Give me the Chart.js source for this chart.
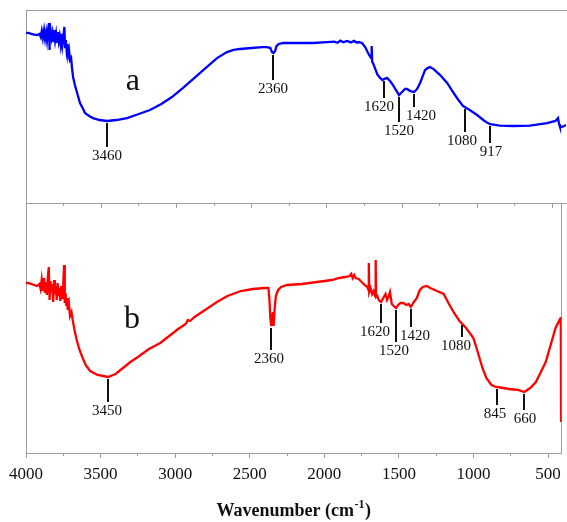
<!DOCTYPE html>
<html><head><meta charset="utf-8">
<script src="https://cdn.jsdelivr.net/npm/chart.js@4"></script>
<style>
html,body{margin:0;padding:0;background:#fff;}
#wrap{position:relative;width:567px;height:522px;overflow:hidden;background:#fff;}
canvas{position:absolute;left:0;top:0;}
</style></head><body>
<div id="wrap"><canvas id="ca" width="567" height="522"></canvas><canvas id="cb" width="567" height="522"></canvas></div>
<script>
// ---------- data ----------
const wavenumberA = [
 4000,3985,3965,3945,3925,3910,3902,3895,3888,3880,
 3873,3866,3860,3853,3847,3844,3842,3836,3830,3824,
 3818,3812,3806,3800,3794,3788,3782,3776,3770,3764,
 3758,3752,3745,3740,3735,3730,3725,3720,3714,3707,
 3700,3694,3687,3675,3660,3641,3620,3608,3580,3555,
 3510,3461,3400,3328,3250,3176,3100,3030,2956,2880,
 2797,2730,2664,2620,2577,2500,2430,2398,2375,2365,
 2355,2344,2335,2320,2291,2200,2092,2000,1950,1930,
 1910,1890,1866,1840,1820,1800,1790,1766,1745,1726,
 1710,1705,1702,1698,1693,1680,1665,1646,1630,1620,
 1600,1580,1560,1540,1520,1500,1480,1467,1445,1420,
 1400,1380,1360,1347,1330,1314,1290,1247,1200,1161,
 1130,1094,1050,1001,960,930,914,850,762,650,
 536,480,463,456,450,436,410];
const transmittanceA = [
 88.1,88.1,87.6,87.3,87.0,87.6,86.0,89.1,85.5,89.6,
 85.0,88.6,84.4,90.1,93.2,79.3,83.9,89.1,85.5,88.1,
 83.4,89.6,84.4,87.6,82.9,88.6,83.9,86.5,82.4,87.6,
 81.8,85.5,91.2,80.8,84.4,79.3,82.4,76.7,79.3,74.1,
 75.1,69.9,65.3,61.1,57.0,51.8,48.7,46.6,45.1,44.0,
 43.0,42.5,43.0,44.0,46.1,48.2,51.3,54.9,59.6,64.8,
 70.5,75.1,78.2,79.3,79.8,80.3,80.8,80.8,80.3,78.2,
 77.7,78.7,81.3,82.4,82.9,82.9,82.9,83.4,83.6,83.0,
 84.1,83.3,84.0,83.2,84.0,83.1,83.4,82.9,80.8,77.7,
 75.6,75.1,81.3,73.0,72.5,69.9,66.8,64.8,63.7,64.2,
 64.8,63.2,61.1,58.5,55.9,57.5,59.1,59.1,58.0,57.5,
 59.1,62.2,66.3,68.9,69.9,70.5,69.4,66.3,62.2,57.5,
 53.9,50.2,48.2,45.6,43.0,41.4,40.9,40.1,39.9,40.1,
 41.4,42.5,44.0,40.9,39.4,39.4,40.4];

const wavenumberB = [
 4000,3985,3965,3945,3925,3910,3902,3895,3888,3880,
 3873,3866,3860,3853,3847,3842,3836,3830,3824,3818,
 3812,3806,3800,3794,3788,3782,3776,3770,3764,3758,
 3752,3745,3740,3735,3730,3725,3720,3712,3705,3695,
 3687,3675,3660,3641,3620,3600,3570,3520,3450,3400,
 3350,3300,3250,3176,3100,3040,2980,2940,2925,2915,
 2900,2870,2800,2720,2650,2560,2480,2400,2375,2368,
 2362,2356,2350,2345,2340,2334,2325,2310,2290,2250,
 2150,2050,1950,1900,1860,1830,1820,1810,1800,1790,
 1770,1750,1730,1712,1704,1702,1699,1690,1680,1670,
 1660,1656,1653,1645,1635,1620,1605,1590,1580,1570,
 1560,1548,1535,1520,1505,1490,1470,1450,1435,1420,
 1400,1380,1360,1340,1314,1290,1260,1230,1200,1161,
 1130,1094,1050,1001,980,960,940,914,880,850,
 800,762,700,660,620,582,516,450,420,415,
 413];
const transmittanceB = [
 68.0,68.0,67.6,67.2,66.8,67.6,65.6,69.2,64.8,70.0,
 64.0,68.4,63.2,70.8,74.4,61.2,68.8,64.4,67.6,60.4,
 69.2,63.6,66.8,61.2,68.0,62.8,66.0,60.8,66.8,62.0,
 65.2,75.2,60.0,64.0,58.8,62.0,57.2,59.6,54.8,56.4,
 53.2,49.2,45.2,41.2,38.0,35.2,32.8,31.2,30.4,31.6,
 34.0,36.4,38.4,41.6,44.0,46.8,49.6,51.2,52.0,53.2,
 52.8,54.4,57.2,60.4,62.8,64.8,65.6,66.0,66.0,61.2,
 54.0,50.8,55.2,56.4,50.8,57.2,62.8,65.2,66.4,67.2,
 67.6,68.4,69.2,70.0,70.4,70.8,71.6,70.0,71.2,70.0,
 69.6,68.4,67.2,66.4,65.2,76.0,64.4,66.0,63.6,64.8,
 62.8,77.2,62.4,62.8,61.2,60.4,62.0,63.6,61.2,62.4,
 64.4,59.6,58.8,58.0,59.2,60.0,60.0,59.2,59.6,58.4,
 60.4,62.0,65.2,66.4,66.8,66.0,65.2,64.4,63.6,59.2,
 56.0,52.8,50.0,46.0,42.0,38.0,34.0,30.0,27.2,26.4,
 26.0,25.6,25.2,24.4,26.0,28.4,36.4,50.0,53.6,54.4,
 12.4];

const peaksA = [3460, 2360, 1620, 1520, 1420, 1080, 917];
const peaksB = [3450, 2360, 1620, 1520, 1420, 1080, 845, 660];
const xTickValues = [4000, 3500, 3000, 2500, 2000, 1500, 1000, 500];
const xTickLabels = ['4000', '3500', '3000', '2500', '2000', '1500', '1000', '500'];
const xMinorValues = [3750, 3250, 2750, 2250, 1750, 1250, 750];
const panelLetters = ['a', 'b'];
const axisTitle = ['Wavenumber (cm', '-1', ')'];

// ---------- layout / style (not data) ----------
const X_MIN = 410, X_MAX = 4000;
const BORDER = '#9d9d9d';
const markLenA = [24, 25, 17, 25, 13, 23, 17];
const labelDxA = [0, 0, -5, 0, 7, -3, 1];
const markLenB = [23, 22, 19, 32, 18, 12, 16, 16];
const labelDxB = [-1, -2, -6, -2, 4, -6, -2, 1];
const letterPosA = [3290, 58.5];
const letterPosB = [3290, 50];

Chart.defaults.font.family = '"Liberation Serif", "Times New Roman", serif';

const fixW = w => s => { s.width = w; };
const fixH = h => s => { s.height = h; };
const setMajor = s => { s.ticks = xTickValues.map(v => ({ value: v })); };
const setMinor = s => { s.ticks = xMinorValues.map(v => ({ value: v })); };

function localValue(ws, vs, w) {
  let best = Infinity;
  for (let i = 0; i < ws.length - 1; i++) {
    const a = ws[i], b = ws[i + 1];
    if ((a - w) * (b - w) <= 0 && a !== b) {
      const t = (w - a) / (b - a);
      best = Math.min(best, vs[i] + t * (vs[i + 1] - vs[i]));
    }
  }
  for (let i = 0; i < ws.length; i++) if (Math.abs(ws[i] - w) <= 6) best = Math.min(best, vs[i]);
  return best;
}

function markerPlugin(id, ws, vs, peaks, lens, dxs, letter, letterPos) {
  return {
    id,
    afterDatasetsDraw(chart) {
      const { ctx } = chart;
      const x = chart.scales.x, y = chart.scales.y;
      ctx.save();
      ctx.strokeStyle = '#111'; ctx.lineWidth = 2; ctx.fillStyle = '#111';
      ctx.font = '15px "Liberation Serif"'; ctx.textAlign = 'center'; ctx.textBaseline = 'alphabetic';
      peaks.forEach((p, i) => {
        const px = Math.round(x.getPixelForValue(p));
        const top = Math.round(y.getPixelForValue(localValue(ws, vs, p))) + 2;
        const bot = top + lens[i];
        ctx.beginPath(); ctx.moveTo(px, top); ctx.lineTo(px, bot); ctx.stroke();
        ctx.fillText(String(p), px + dxs[i], bot + 13);
      });
      ctx.font = '32px "Liberation Serif"';
      ctx.fillText(letter, x.getPixelForValue(letterPos[0]), y.getPixelForValue(letterPos[1]));
      ctx.restore();
    }
  };
}

const titlePlugin = {
  id: 'xtitle',
  afterDraw(chart) {
    const { ctx, chartArea } = chart;
    ctx.save();
    ctx.fillStyle = '#111';
    ctx.textBaseline = 'alphabetic'; ctx.textAlign = 'left';
    const fMain = 'bold 18px "Liberation Serif"', fSup = 'bold 12px "Liberation Serif"';
    ctx.font = fMain; const w1 = ctx.measureText(axisTitle[0]).width; const w3 = ctx.measureText(axisTitle[2]).width;
    ctx.font = fSup; const w2 = ctx.measureText(axisTitle[1]).width + 1;
    const cx = (chartArea.left + chartArea.right) / 2;
    let sx = cx - (w1 + w2 + w3) / 2;
    const base = 516;
    ctx.font = fMain; ctx.fillText(axisTitle[0], sx, base);
    ctx.font = fSup; ctx.fillText(axisTitle[1], sx + w1 + 0.5, base - 8);
    ctx.font = fMain; ctx.fillText(axisTitle[2], sx + w1 + w2, base);
    ctx.restore();
  }
};

function xBase(extra) {
  return Object.assign({ type: 'linear', min: X_MIN, max: X_MAX, reverse: true }, extra);
}
const noTicks = { display: false };
const plainGrid = { display: true, drawOnChartArea: false, drawTicks: false };

// ---------- top panel (a) ----------
new Chart(document.getElementById('ca'), {
  type: 'line',
  data: {
    datasets: [{
      data: wavenumberA.map((w, i) => ({ x: w, y: transmittanceA[i] })),
      borderColor: '#0000ff', borderWidth: 2.3, pointRadius: 0, tension: 0, fill: false
    }]
  },
  options: {
    responsive: false, devicePixelRatio: 1, animation: false, parsing: false,
    layout: { padding: 0, autoPadding: false },
    plugins: { legend: { display: false }, tooltip: { enabled: false } },
    scales: {
      x: xBase({ position: 'bottom', weight: 1, afterBuildTicks: setMajor, afterFit: fixH(319),
        grid: { display: true, drawOnChartArea: false, drawTicks: true, tickLength: 5, color: BORDER },
        border: { display: true, color: BORDER }, ticks: noTicks }),
      xm: xBase({ position: 'bottom', weight: 0, afterBuildTicks: setMinor, afterFit: fixH(0),
        grid: { display: true, drawOnChartArea: false, drawTicks: true, tickLength: 3, color: BORDER },
        border: { display: true, color: BORDER }, ticks: noTicks }),
      xt: xBase({ position: 'top', afterFit: fixH(10), grid: plainGrid,
        border: { display: true, color: BORDER }, ticks: noTicks }),
      y: { type: 'linear', min: 0, max: 100, position: 'left', afterFit: fixW(26), grid: plainGrid,
        border: { display: true, color: BORDER }, ticks: noTicks },
      yr: { type: 'linear', min: 0, max: 100, position: 'right', afterFit: fixW(1), grid: plainGrid,
        border: { display: false }, ticks: noTicks }
    }
  },
  plugins: [markerPlugin('marksA', wavenumberA, transmittanceA, peaksA, markLenA, labelDxA, panelLetters[0], letterPosA)]
});

// ---------- bottom panel (b) ----------
new Chart(document.getElementById('cb'), {
  type: 'line',
  data: {
    datasets: [{
      data: wavenumberB.map((w, i) => ({ x: w, y: transmittanceB[i] })),
      borderColor: '#ff0000', borderWidth: 2.3, pointRadius: 0, tension: 0, fill: false
    }]
  },
  options: {
    responsive: false, devicePixelRatio: 1, animation: false, parsing: false,
    layout: { padding: 0, autoPadding: false },
    plugins: { legend: { display: false }, tooltip: { enabled: false } },
    scales: {
      x: xBase({ position: 'bottom', weight: 1, afterBuildTicks: setMajor, afterFit: fixH(69),
        grid: { display: true, drawOnChartArea: false, drawTicks: true, tickLength: 5, color: BORDER },
        border: { display: true, color: BORDER },
        ticks: { display: true, autoSkip: false, maxRotation: 0, padding: 6, color: '#111',
          font: { size: 17, family: '"Liberation Serif"' },
          callback: v => xTickLabels[xTickValues.indexOf(v)] } }),
      xm: xBase({ position: 'bottom', weight: 0, afterBuildTicks: setMinor, afterFit: fixH(0),
        grid: { display: true, drawOnChartArea: false, drawTicks: true, tickLength: 3, color: BORDER },
        border: { display: true, color: BORDER }, ticks: noTicks }),
      xt: xBase({ position: 'top', afterFit: fixH(203), grid: { display: false },
        border: { display: false }, ticks: noTicks }),
      y: { type: 'linear', min: 0, max: 100, position: 'left', afterFit: fixW(26), grid: plainGrid,
        border: { display: true, color: BORDER }, ticks: noTicks },
      yr: { type: 'linear', min: 0, max: 100, position: 'right', afterFit: fixW(1), grid: plainGrid,
        border: { display: true, color: BORDER }, ticks: noTicks }
    }
  },
  plugins: [markerPlugin('marksB', wavenumberB, transmittanceB, peaksB, markLenB, labelDxB, panelLetters[1], letterPosB), titlePlugin]
});
</script>
</body></html>
